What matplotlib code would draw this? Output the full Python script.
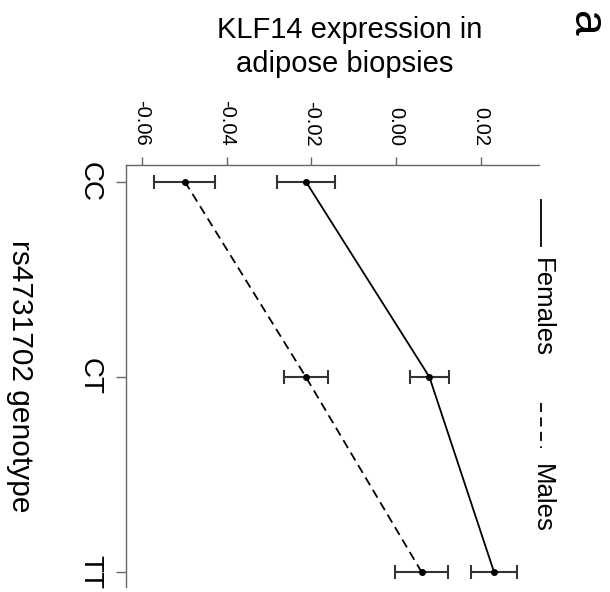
import matplotlib
matplotlib.use('Agg')
import matplotlib.pyplot as plt
from matplotlib.lines import Line2D

plt.rcParams['font.family'] = ['Liberation Sans', 'DejaVu Sans']

# data (mean and half error bar)
genotypes = ['CC', 'CT', 'TT']
females_mean = [-0.0213, 0.0079, 0.0232]
females_se = [0.0068, 0.0047, 0.0054]
males_mean = [-0.0499, -0.0213, 0.0061]
males_se = [0.0072, 0.0052, 0.0063]
value_ticks = [-0.06, -0.04, -0.02, 0.00, 0.02]

W, H = 610, 592
fig = plt.figure(figsize=(W / 100, H / 100), dpi=100)

# the chart is drawn turned a quarter clockwise:
# expression runs left->right along the top, genotype runs down the left side
ax = fig.add_axes([126 / W, 1 - 587 / H, 413 / W, 422 / H])
pos = list(range(1, len(genotypes) + 1))

ebar_col = '#333333'
ax.errorbar(females_mean, pos, xerr=females_se, fmt='none', ecolor=ebar_col,
            elinewidth=1.5, capsize=4.8, capthick=1.5, zorder=2)
ax.errorbar(males_mean, pos, xerr=males_se, fmt='none', ecolor=ebar_col,
            elinewidth=1.5, capsize=4.8, capthick=1.5, zorder=2)
ax.plot(females_mean, pos, color='black', lw=1.3, ls='-', marker='o', ms=4, zorder=3)
ax.plot(males_mean, pos, color='black', lw=1.3, ls=(0, (5, 3)), marker='o', ms=4, zorder=3)

ax.set_xlim(-0.0638, 0.0338)
ax.set_ylim(3.075, 0.915)

spine_col = '#666666'
for s in ['right', 'bottom']:
    ax.spines[s].set_visible(False)
for s in ['top', 'left']:
    ax.spines[s].set_color(spine_col)
    ax.spines[s].set_linewidth(1.0)

ax.xaxis.tick_top()
ax.set_xticks(value_ticks)
ax.set_xticklabels(['%.2f' % v for v in value_ticks], rotation=-90, fontsize=14.5)
ax.tick_params(axis='x', length=5.5, width=1, color=spine_col, pad=8)
ax.set_yticks(pos)
ax.set_yticklabels(genotypes, rotation=-90, fontsize=20, va='center')
ax.tick_params(axis='y', length=7, width=1, color=spine_col, pad=9.5)

# axis titles (rotated view)
fig.text(350 / W, 1 - 38.3 / H, 'KLF14 expression in', ha='center', va='baseline', fontsize=21)
fig.text(345 / W, 1 - 72 / H, 'adipose biopsies', ha='center', va='baseline', fontsize=21)
fig.text(20 / W, 1 - 376 / H, 'rs4731702 genotype', ha='center', va='center',
         rotation=-90, fontsize=21.5)
fig.text(585 / W, 1 - 24 / H, 'a', ha='center', va='center', rotation=-90, fontsize=33)

# legend, turned like the rest of the chart
fig.add_artist(Line2D([541 / W, 541 / W], [1 - 200 / H, 1 - 246 / H], color='black', lw=1.3))
fig.text(542 / W, 1 - 308 / H, 'Females', ha='center', va='center', rotation=-90, fontsize=18.5)
fig.add_artist(Line2D([541 / W, 541 / W], [1 - 403 / H, 1 - 448 / H], color='black', lw=1.3,
                      ls=(0, (5, 3))))
fig.text(542 / W, 1 - 498 / H, 'Males', ha='center', va='center', rotation=-90, fontsize=18.5)

fig.savefig('out.png', dpi=100)
